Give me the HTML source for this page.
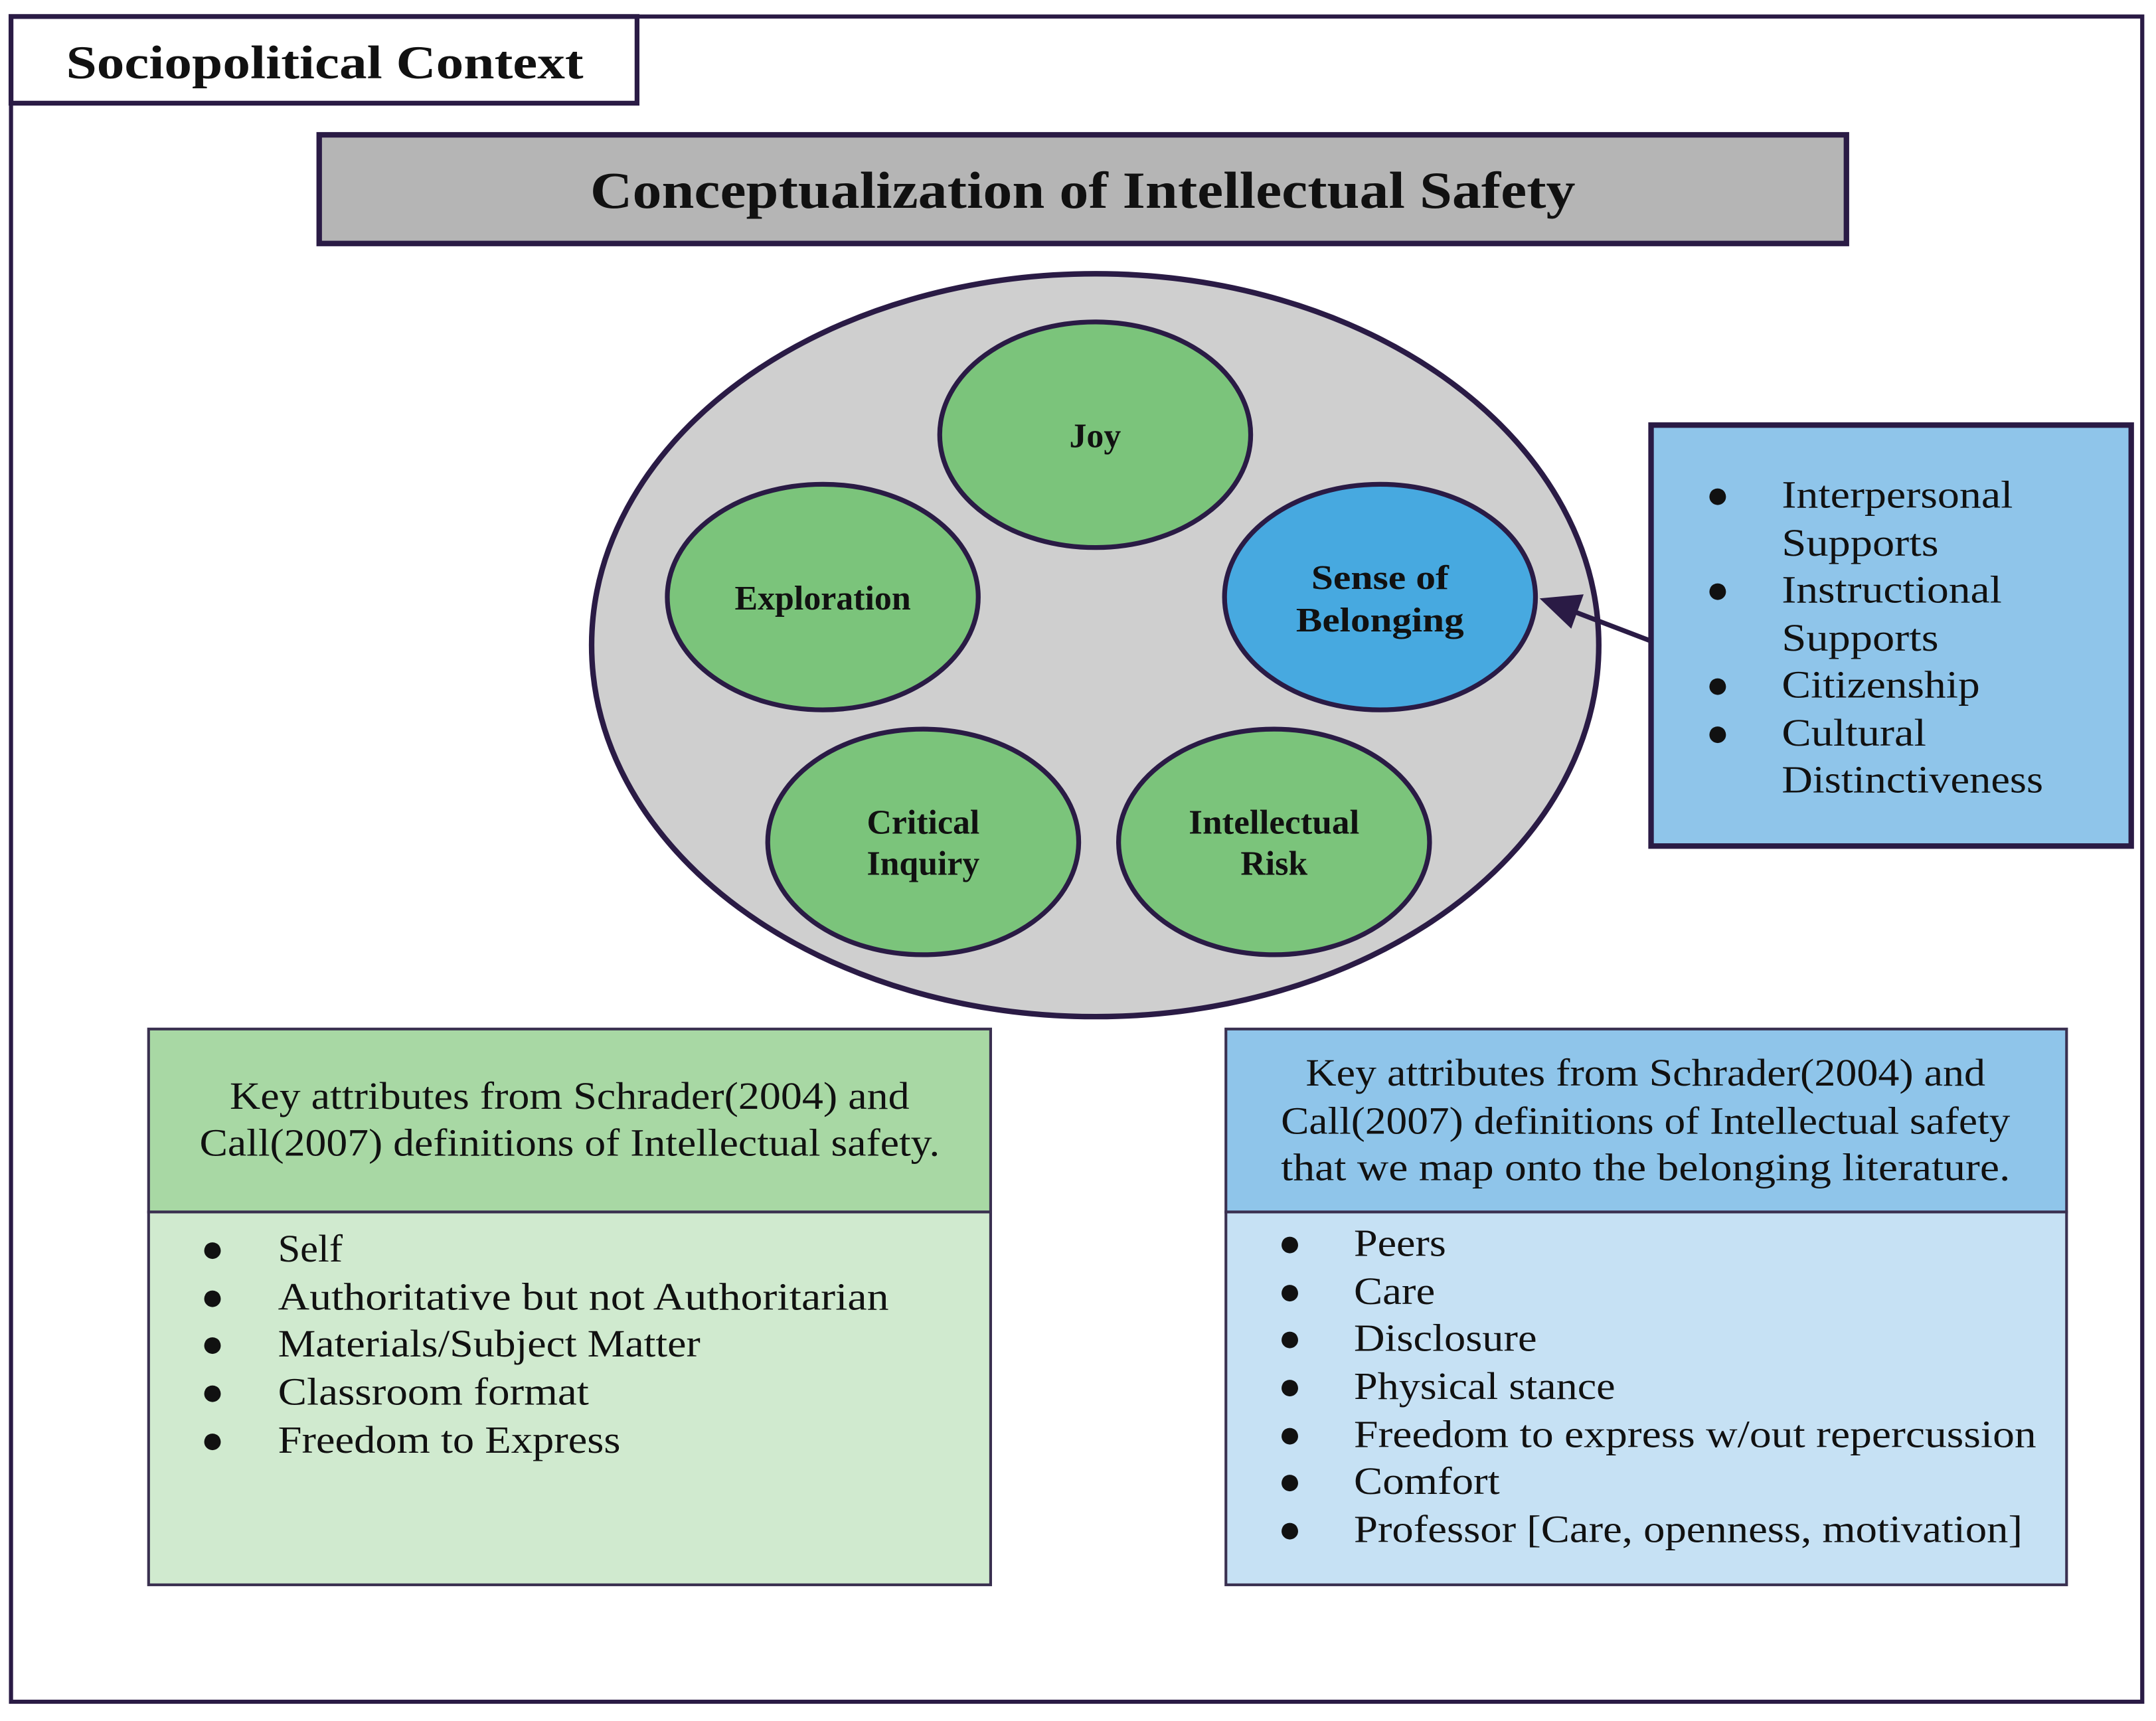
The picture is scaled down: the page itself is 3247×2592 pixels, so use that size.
<!DOCTYPE html>
<html><head><meta charset="utf-8"><style>html,body{margin:0;padding:0;background:#fff}svg{display:block}text{font-family:"Liberation Serif",serif;fill:#111}</style></head>
<body>
<svg width="3247" height="2592" viewBox="0 0 1567 1251" preserveAspectRatio="none" xmlns="http://www.w3.org/2000/svg">
<rect x="8" y="12" width="1549" height="1225" fill="#fff" stroke="#2a1b45" stroke-width="3"/>
<rect x="8" y="12" width="455" height="63" fill="#fff" stroke="#2a1b45" stroke-width="3.5"/>
<text x="48" y="57" font-size="34" font-weight="bold" textLength="376" lengthAdjust="spacingAndGlyphs">Sociopolitical Context</text>
<rect x="232" y="98" width="1110" height="79" fill="#b5b5b5" stroke="#2a1b45" stroke-width="4"/>
<text x="787" y="151" font-size="38" font-weight="bold" text-anchor="middle" textLength="716" lengthAdjust="spacingAndGlyphs">Conceptualization of Intellectual Safety</text>
<ellipse cx="796" cy="469" rx="366" ry="270" fill="#cfcfcf" stroke="#2a1b45" stroke-width="4"/>
<g stroke="#2a1b45" stroke-width="3.5">
<ellipse cx="796" cy="316" rx="113" ry="82" fill="#7bc47b"/>
<ellipse cx="598" cy="434" rx="113" ry="82" fill="#7bc47b"/>
<ellipse cx="1003" cy="434" rx="113" ry="82" fill="#47a9e0"/>
<ellipse cx="671" cy="612" rx="113" ry="82" fill="#7bc47b"/>
<ellipse cx="926" cy="612" rx="113" ry="82" fill="#7bc47b"/>
</g>
<g font-size="25" font-weight="bold" text-anchor="middle">
<text x="796" y="325">Joy</text>
<text x="598" y="443" textLength="128" lengthAdjust="spacingAndGlyphs">Exploration</text>
<text x="1003" y="428" textLength="100" lengthAdjust="spacingAndGlyphs">Sense of</text>
<text x="1003" y="459" textLength="122" lengthAdjust="spacingAndGlyphs">Belonging</text>
<text x="671" y="606">Critical</text>
<text x="671" y="636">Inquiry</text>
<text x="926" y="606" textLength="124" lengthAdjust="spacingAndGlyphs">Intellectual</text>
<text x="926" y="636">Risk</text>
</g>
<rect x="1200" y="309" width="349" height="306" fill="#8fc5ea" stroke="#2a1b45" stroke-width="4"/>
<line x1="1200" y1="466" x2="1140" y2="443" stroke="#2a1b45" stroke-width="3.5"/>
<polygon points="1119,435 1151,432 1142,457" fill="#2a1b45"/>
<g font-size="28">
<text x="1240" y="369">●</text><text x="1295" y="369" textLength="168" lengthAdjust="spacingAndGlyphs">Interpersonal</text>
<text x="1295" y="404" textLength="114" lengthAdjust="spacingAndGlyphs">Supports</text>
<text x="1240" y="438">●</text><text x="1295" y="438" textLength="160" lengthAdjust="spacingAndGlyphs">Instructional</text>
<text x="1295" y="473" textLength="114" lengthAdjust="spacingAndGlyphs">Supports</text>
<text x="1240" y="507">●</text><text x="1295" y="507" textLength="144" lengthAdjust="spacingAndGlyphs">Citizenship</text>
<text x="1240" y="542">●</text><text x="1295" y="542" textLength="105" lengthAdjust="spacingAndGlyphs">Cultural</text>
<text x="1295" y="576" textLength="190" lengthAdjust="spacingAndGlyphs">Distinctiveness</text>
</g>
<rect x="108" y="748" width="612" height="133" fill="#a8d8a4" stroke="#3a3050" stroke-width="2"/>
<rect x="108" y="881" width="612" height="271" fill="#d0eacf" stroke="#3a3050" stroke-width="2"/>
<rect x="891" y="748" width="611" height="133" fill="#8fc5ea" stroke="#3a3050" stroke-width="2"/>
<rect x="891" y="881" width="611" height="271" fill="#c6e1f4" stroke="#3a3050" stroke-width="2"/>
<g font-size="28">
<text x="414" y="806" text-anchor="middle" textLength="494" lengthAdjust="spacingAndGlyphs">Key attributes from Schrader(2004) and</text>
<text x="414" y="840" text-anchor="middle" textLength="538" lengthAdjust="spacingAndGlyphs">Call(2007) definitions of Intellectual safety.</text>
<text x="1196" y="789" text-anchor="middle" textLength="494" lengthAdjust="spacingAndGlyphs">Key attributes from Schrader(2004) and</text>
<text x="1196" y="824" text-anchor="middle" textLength="530" lengthAdjust="spacingAndGlyphs">Call(2007) definitions of Intellectual safety</text>
<text x="1196" y="858" text-anchor="middle" textLength="530" lengthAdjust="spacingAndGlyphs">that we map onto the belonging literature.</text>
<text x="146" y="917">●</text><text x="202" y="917" textLength="47" lengthAdjust="spacingAndGlyphs">Self</text>
<text x="146" y="952">●</text><text x="202" y="952" textLength="444" lengthAdjust="spacingAndGlyphs">Authoritative but not Authoritarian</text>
<text x="146" y="986">●</text><text x="202" y="986" textLength="307" lengthAdjust="spacingAndGlyphs">Materials/Subject Matter</text>
<text x="146" y="1021">●</text><text x="202" y="1021" textLength="226" lengthAdjust="spacingAndGlyphs">Classroom format</text>
<text x="146" y="1056">●</text><text x="202" y="1056" textLength="249" lengthAdjust="spacingAndGlyphs">Freedom to Express</text>
<text x="929" y="913">●</text><text x="984" y="913" textLength="67" lengthAdjust="spacingAndGlyphs">Peers</text>
<text x="929" y="948">●</text><text x="984" y="948" textLength="59" lengthAdjust="spacingAndGlyphs">Care</text>
<text x="929" y="982">●</text><text x="984" y="982" textLength="133" lengthAdjust="spacingAndGlyphs">Disclosure</text>
<text x="929" y="1017">●</text><text x="984" y="1017" textLength="190" lengthAdjust="spacingAndGlyphs">Physical stance</text>
<text x="929" y="1052">●</text><text x="984" y="1052" textLength="496" lengthAdjust="spacingAndGlyphs">Freedom to express w/out repercussion</text>
<text x="929" y="1086">●</text><text x="984" y="1086" textLength="106" lengthAdjust="spacingAndGlyphs">Comfort</text>
<text x="929" y="1121">●</text><text x="984" y="1121" textLength="486" lengthAdjust="spacingAndGlyphs">Professor [Care, openness, motivation]</text>
</g>
</svg>
</body></html>
